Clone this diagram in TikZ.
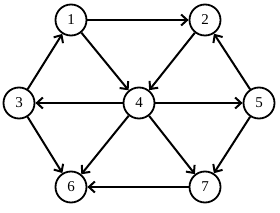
\documentclass[tikz,border=0pt]{standalone}
\usepackage{fontspec}
\setmainfont{Liberation Serif}
\usetikzlibrary{arrows.meta}
\begin{document}
\begin{tikzpicture}[x=1pt,y=-1pt,
  vtx/.style={circle,draw,line width=1.8pt,minimum size=31pt,inner sep=0pt,font=\fontsize{15}{17}\selectfont},
  edge/.style={line width=2pt,-{Straight Barb[length=6pt,width=11pt,line width=2pt]}}]
\useasboundingbox (0,0) rectangle (280,213);
\node[vtx] (n1) at (71,20) {1};
\node[vtx] (n2) at (205,20) {2};
\node[vtx] (n3) at (19,103) {3};
\node[vtx] (n4) at (139,103) {4};
\node[vtx] (n5) at (259,103) {5};
\node[vtx] (n6) at (71,187) {6};
\node[vtx] (n7) at (205,187) {7};
\draw[edge] (n1) -- (n2);
\draw[edge] (n1) -- (n4);
\draw[edge] (n2) -- (n4);
\draw[edge] (n3) -- (n1);
\draw[edge] (n3) -- (n6);
\draw[edge] (n4) -- (n3);
\draw[edge] (n4) -- (n5);
\draw[edge] (n4) -- (n6);
\draw[edge] (n4) -- (n7);
\draw[edge] (n5) -- (n2);
\draw[edge] (n5) -- (n7);
\draw[edge] (n7) -- (n6);
\end{tikzpicture}
\end{document}
